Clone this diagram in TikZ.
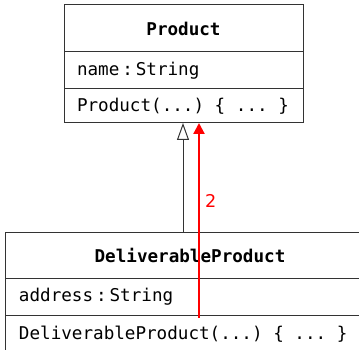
\documentclass[tikz,border=0pt]{standalone}
\usepackage{fontspec}
\setmainfont{DejaVu Sans}
\setmonofont{DejaVu Sans Mono}
\usetikzlibrary{arrows.meta, positioning}
\newcommand{\gap}{\hspace{0.602em}}

\begin{document}
\begin{tikzpicture}[
        x=1pt, y=-1pt,
        node distance=0pt,
        every node/.style={font=\fontsize{17.6}{20}\selectfont\ttfamily},
        part/.style={draw=black!80, line width=1pt, inner ysep=0pt, outer sep=0pt},
        head/.style={part, font=\fontsize{17.6}{20}\selectfont\ttfamily\bfseries, minimum height=47pt},
        attr/.style={part, align=left, minimum height=37pt},
        meth/.style={part, align=left, minimum height=34pt},
        inherit/.style={-{Triangle[open, length=17pt, width=12pt]}, line width=1pt, draw=black!80},
        call/.style={-{Triangle[length=11pt, width=11pt]}, line width=2.2pt, red}
    ]
    \useasboundingbox (0,0) rectangle (359,350);

    % Product class
    \node [head, minimum width=239pt, anchor=north west](pHead) at (64,5) {Product};
    \node [attr, text width=213pt, inner xsep=13pt](pAttr) [below=of pHead] {name\,:\,String};
    \node [meth, text width=213pt, inner xsep=13pt](pMeth) [below=of pAttr] {Product(...)\gap\{\gap...\gap\}};

    % DeliverableProduct class
    \node [head, minimum width=370pt, minimum height=46pt, anchor=north west](dHead) at (5,232) {DeliverableProduct};
    \node [attr, text width=342pt, inner xsep=14pt](dAttr) [below=of dHead] {address\,:\,String};
    \node [meth, text width=342pt, inner xsep=14pt, text height=24.5pt, text depth=12pt](dMeth) [below=of dAttr] {DeliverableProduct(...)\gap\{\gap...\gap\}};

    % Connectors
    \coordinate (genX) at (183,0);
    \coordinate (callX) at (199,0);
    \coordinate (callStart) at (199,318);
    \draw[inherit] (dHead.north -| genX) -- (pMeth.south -| genX);
    \draw[call] (callStart) -- node[pos=0.6, right, inner sep=5pt, text=red, font=\fontsize{17.6}{20}\selectfont\rmfamily] {2} (pMeth.south -| callX);

\end{tikzpicture}
\end{document}
